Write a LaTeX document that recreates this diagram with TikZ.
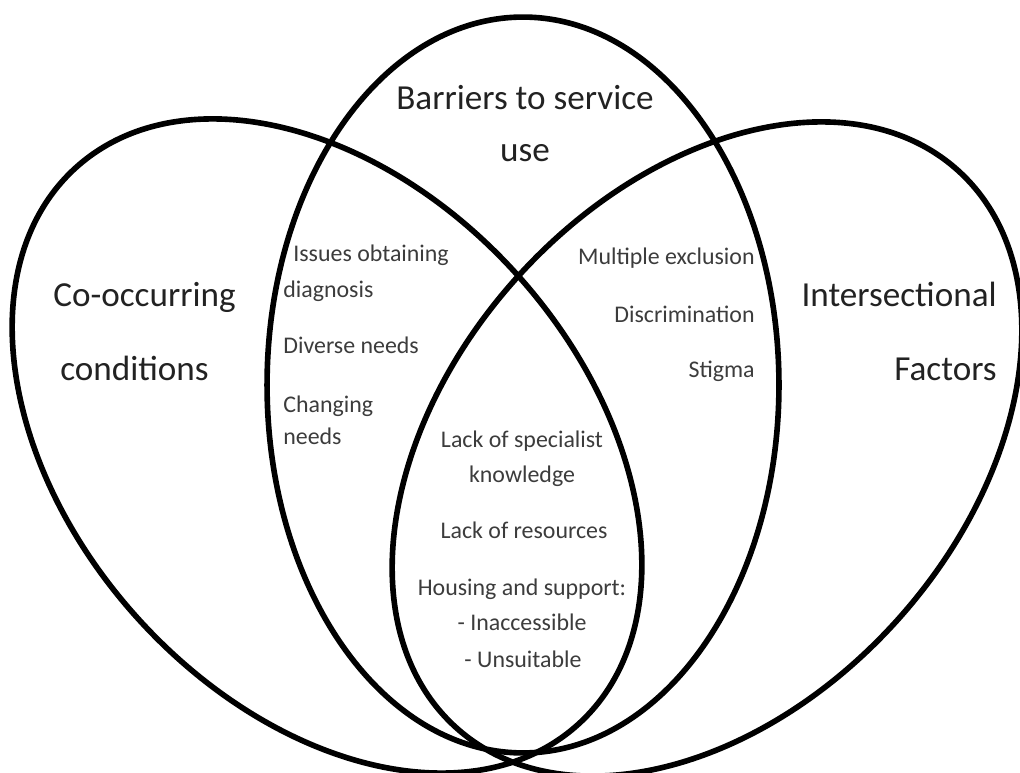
\documentclass[tikz,border=0pt]{standalone}
\usepackage{fontspec}
\setmainfont{Carlito}
\definecolor{bigtext}{RGB}{34,34,34}
\definecolor{smalltext}{RGB}{60,60,60}
\tikzset{
  setline/.style={line width=3.2pt, draw=black},
  biglabel/.style={font=\fontsize{20}{24}\selectfont, text=bigtext, inner sep=0pt},
  smalllabel/.style={font=\fontsize{13.6}{16}\selectfont, text=smalltext, inner sep=0pt},
}
\begin{document}
\begin{tikzpicture}[x=0.02cm,y=-0.02cm]
\useasboundingbox (0,0) rectangle (1020,773);
\begin{scope}
\clip (0,0) rectangle (1020,773);
% top set: Barriers to service use
\draw[setline] (523,385) ellipse [x radius=5.12cm, y radius=7.36cm];
% left set: Co-occurring conditions
\draw[setline, shift={(327,446)}, rotate=-48] (0,0) ellipse [x radius=7.5cm, y radius=5.12cm];
% right set: Intersectional Factors
\draw[setline, shift={(707,449)}, rotate=48] (0,0) ellipse [x radius=7.5cm, y radius=5.12cm];
\end{scope}
% set titles
\node[biglabel, anchor=base] (barriers) at (525,110) {Barriers to service};
\node[biglabel, anchor=base] (use) at (525,162) {use};
\node[biglabel, anchor=base west] (cooc) at (53,307) {Co-occurring};
\node[biglabel, anchor=base west] (cond) at (60,380) {conditions};
\node[biglabel, anchor=base east] (inter) at (997,307) {Intersectional};
\node[biglabel, anchor=base east] (fact) at (997,380) {Factors};
% left overlap
\node[smalllabel, anchor=base west] (issues) at (293,262) {Issues obtaining};
\node[smalllabel, anchor=base west] (diag) at (283,297) {diagnosis};
\node[smalllabel, anchor=base west] (diverse) at (283,353) {Diverse needs};
\node[smalllabel, anchor=base west] (chang) at (283,412) {Changing};
\node[smalllabel, anchor=base west] (needs) at (283,444) {needs};
% right overlap
\node[smalllabel, anchor=base east] (multi) at (755,265) {Multiple exclusion};
\node[smalllabel, anchor=base east] (discr) at (755,322) {Discrimination};
\node[smalllabel, anchor=base east] (stigma) at (755,377) {Stigma};
% centre
\node[smalllabel, anchor=base] (lack1) at (522,447) {Lack of specialist};
\node[smalllabel, anchor=base] (know) at (522,482) {knowledge};
\node[smalllabel, anchor=base] (lack2) at (524,538) {Lack of resources};
\node[smalllabel, anchor=base] (housing) at (522,595) {Housing and support:};
\node[smalllabel, anchor=base] (inacc) at (522,630) {- Inaccessible};
\node[smalllabel, anchor=base] (unsuit) at (523,667) {- Unsuitable};
\end{tikzpicture}
\end{document}
